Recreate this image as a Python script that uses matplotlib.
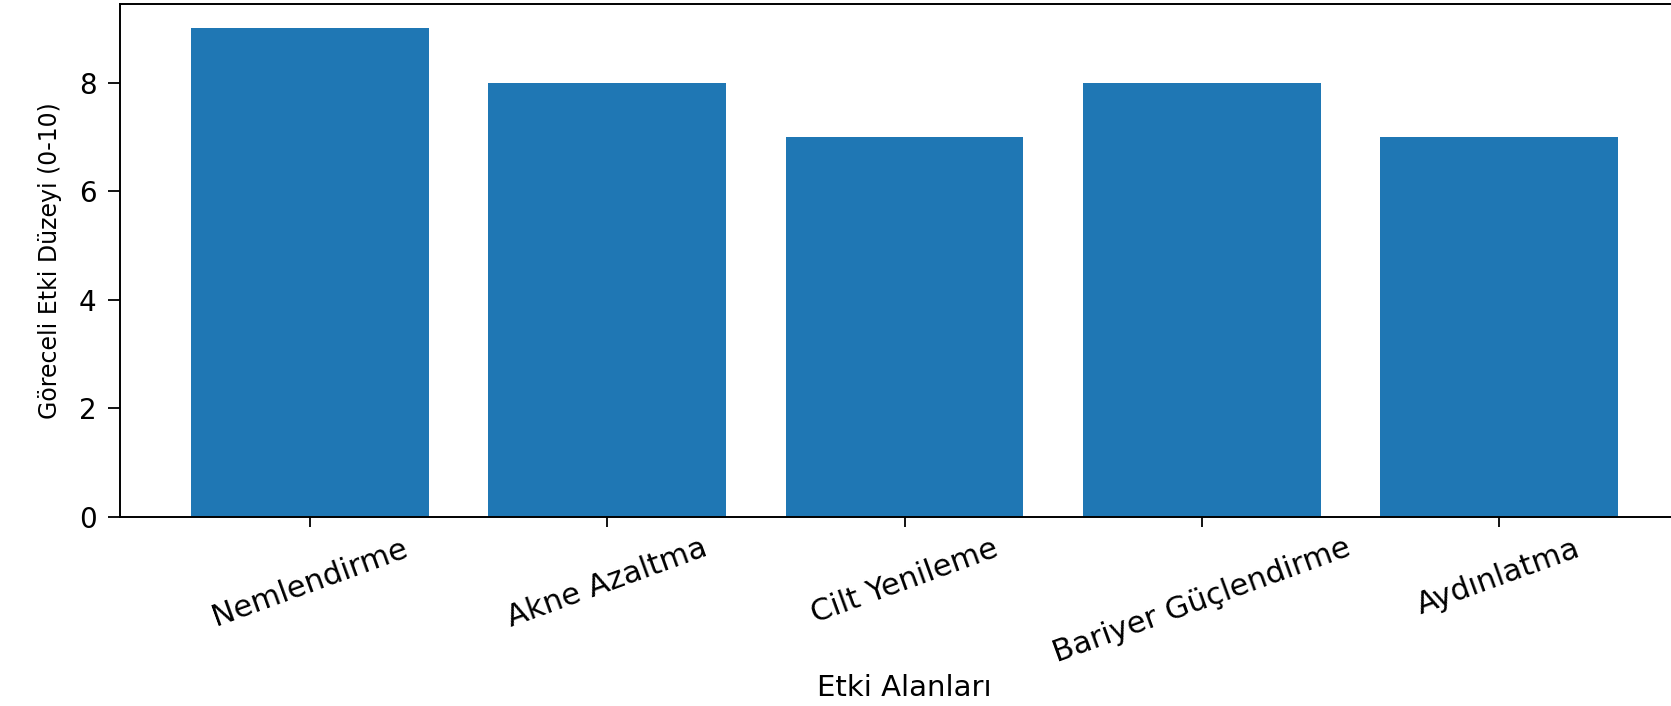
import matplotlib
matplotlib.use("Agg")
import matplotlib.pyplot as plt

categories = ["Nemlendirme", "Akne Azaltma", "Cilt Yenileme", "Bariyer Güçlendirme", "Aydınlatma"]
values = [9, 8, 7, 8, 7]

W, H = 1671, 706
fig = plt.figure(figsize=(W / 100, H / 100), dpi=100)
# axes runs past the right edge, like the cropped original
ax = fig.add_axes([120 / W, (H - 517) / H, 1569 / W, 513 / H])

ax.bar(categories, values, width=0.8, color="#1f77b4")
ax.set_xlim(-0.64, 4.64)
ax.set_ylim(0, 9.45)
ax.set_yticks([0, 2, 4, 6, 8])

ax.tick_params(axis="x", labelsize=22, length=7, width=1.3, pad=5, labelrotation=20)
ax.tick_params(axis="y", labelsize=20, length=9, width=1.3, pad=8)
for s in ax.spines.values():
    s.set_linewidth(1.4)

ax.set_xlabel("Etki Alanları", fontsize=21, labelpad=4)
ax.set_ylabel("Göreceli Etki Düzeyi (0-10)", fontsize=17, labelpad=12)

fig.savefig("out.png", dpi=100)
